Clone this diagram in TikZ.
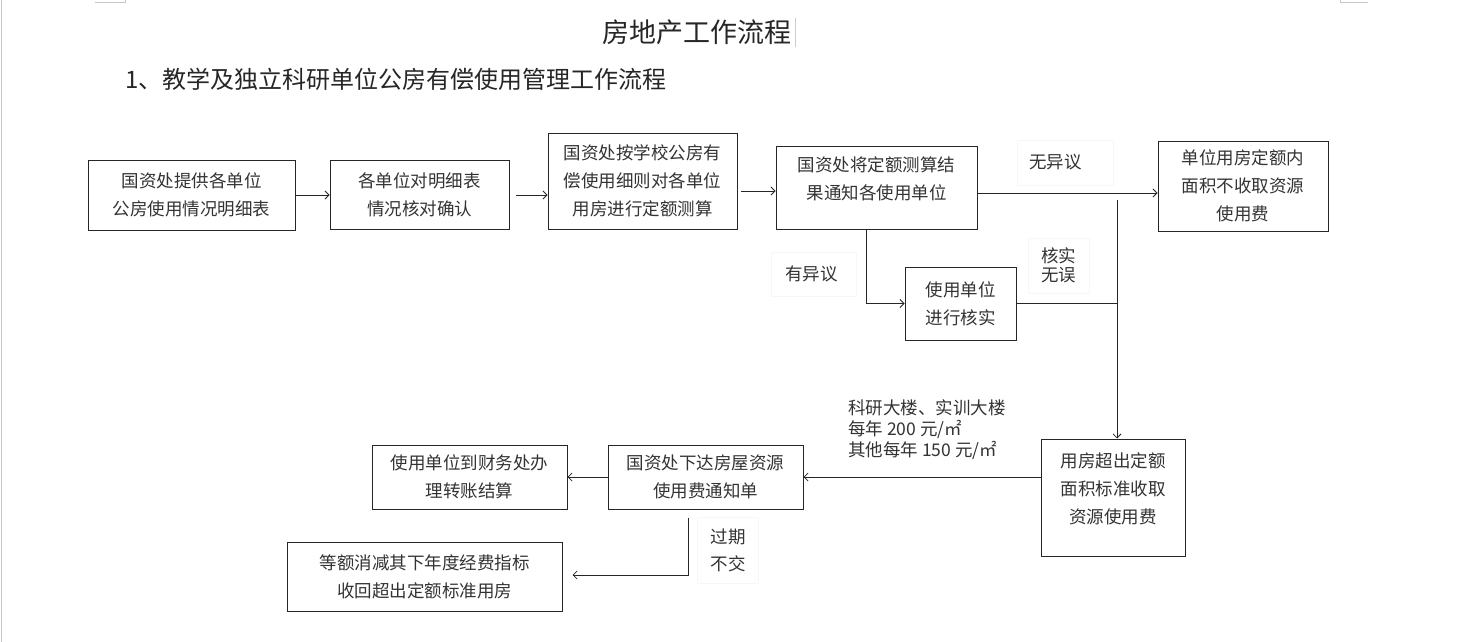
\documentclass[tikz,border=0pt]{standalone}
\usepackage{fontspec}
\setmainfont{Noto Sans CJK SC}
\usetikzlibrary{arrows.meta, positioning}
\tikzset{
    block/.style={draw=black!85, rectangle, line width=1pt, align=center, text=black!80, inner sep=0pt, font=\fontsize{17.5}{28}\selectfont},
    blocktext/.style={align=center, text=black!80, inner sep=0pt, font=\fontsize{17.5}{28}\selectfont},
    note/.style={draw=gray!6, rectangle, line width=0.6pt, text=black!80, inner ysep=0pt, font=\fontsize{17.5}{27}\selectfont},
    arrow/.style={draw, -{Straight Barb[length=4pt, width=8pt]}, line width=0.8pt, color=black!85},
    line/.style={draw, line width=0.8pt, color=black!85},
    pagemark/.style={draw=gray!45, line width=0.7pt}
}

\begin{document}
\begin{tikzpicture}[x=1pt, y=-1pt]
    \useasboundingbox [fill=white] (0,0) rectangle (1458,642);
    % page marks
    \draw [pagemark] (1,0) -- (1,642);
    \draw [pagemark] (95,2) -- (125,2) -- (125,0);
    \draw [pagemark] (1368,2) -- (1340,2) -- (1340,0);
    \draw [gray!40, line width=0.5pt] (795,18) -- (795,47);

    % headings
    \node [text=black!85, font=\fontsize{27}{30}\selectfont] (title) at (697,32) {房地产工作流程};
    \node [anchor=west, inner sep=0pt, text=black!85, font=\fontsize{24}{28}\selectfont] (subtitle) at (125,79) {1、教学及独立科研单位公房有偿使用管理工作流程};

    % upper row
    \node [block, minimum width=207, minimum height=70] (supply) at (191.5,195) {国资处提供各单位\\公房使用情况明细表};
    \node [block, minimum width=179, minimum height=69, right=34pt of supply] (check) {各单位对明细表\\情况核对确认};
    \node [block, minimum width=189, minimum height=96] (quota) at (642.5,181) {国资处按学校公房有\\偿使用细则对各单位\\用房进行定额测算};
    \node [block, minimum width=201, minimum height=83,
           label={[blocktext, yshift=8.5pt]center:国资处将定额测算结\\果通知各使用单位}] (notify) at (876.5,187.5) {};
    \node [block, minimum width=170, minimum height=90] (within) at (1243,186) {单位用房定额内\\面积不收取资源\\使用费};
    \node [block, minimum width=111, minimum height=73] (verify) at (960.5,303.5) {使用单位\\进行核实};

    % lower row
    \node [block, minimum width=144, minimum height=117,
           label={[blocktext, yshift=8.5pt]center:用房超出定额\\面积标准收取\\资源使用费}] (charge) at (1113,497.5) {};
    \node [block, minimum width=195, minimum height=64] (bill) at (705.5,477) {国资处下达房屋资源\\使用费通知单};
    \node [block, minimum width=195, minimum height=64, left=40pt of bill] (settle) {使用单位到财务处办\\理转账结算};
    \node [block, minimum width=275, minimum height=69] (reduce) at (424.5,576.5) {等额消减其下年度经费指标\\收回超出定额标准用房};

    % notes
    \node [note, align=left, text width=72, inner xsep=12pt, minimum height=45] (noobj) at (1065,162.5) {无异议};
    \node [note, align=left, text width=57, inner xsep=14pt, minimum height=44] (obj) at (813.5,274) {有异议};
    \node [note, align=center, inner xsep=13pt, minimum height=55, font=\fontsize{17.5}{19}\selectfont] (ok) at (1058.5,265.5) {核实\\无误};
    \node [note, align=center, inner xsep=13pt, minimum height=66] (late) at (728,550) {过期\\不交};
    \node [anchor=west, align=left, inner sep=0pt, text=black!80, font=\fontsize{17.5}{21}\selectfont] (price) at (848,430) {科研大楼、实训大楼\\每年 200 元/㎡\\其他每年 150 元/㎡};

    % connectors
    \coordinate (cd) at (741,191);
    \coordinate (de) at (1000,193);
    \coordinate (drop) at (1117,200);

    \draw [arrow] (supply) -- (check);
    \draw [arrow] ([xshift=6pt]check.east) -- (quota.west |- check.east);
    \draw [arrow] (cd) -- (notify.west |- cd);
    \draw [arrow] (notify.east |- de) -- (within.west |- de);
    \draw [arrow] ([xshift=-10.5pt]notify.south) |- (verify.west);
    \draw [line] (verify.east) -- (drop |- verify.east);
    \draw [arrow] (drop) -- (drop |- charge.north);
    \draw [arrow] (charge.west |- bill.east) -- (bill.east);
    \draw [arrow] (bill) -- (settle);
    \draw [arrow] ([xshift=-17.5pt, yshift=-8pt]bill.south) |- ([xshift=10pt, yshift=1.5pt]reduce.east);
\end{tikzpicture}
\end{document}
